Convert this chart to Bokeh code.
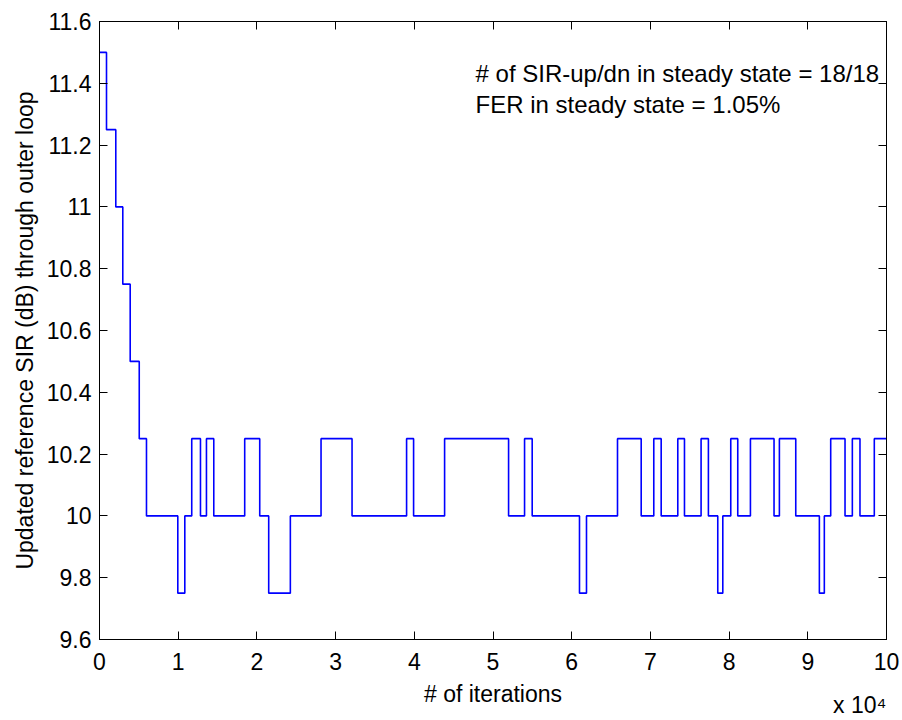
from bokeh.plotting import figure
from bokeh.models import LinearAxis, Label, Range1d, FixedTicker, CustomJSTickFormatter
from bokeh.embed import file_html
from bokeh.resources import INLINE

# Step positions (iterations) and SIR target levels (dB)
step_x = [0, 890, 2070, 2960, 3900, 5050, 5970,
          9950, 10840, 11720, 12830, 13590, 14520,
          18450, 20360, 21500, 24250, 28150, 32090,
          39020, 39910, 43850, 51980, 54010, 54980,
          60990, 61880, 65820, 68830, 70430, 71370,
          73480, 74330, 76440, 77370, 78560, 79200,
          80210, 81100, 82710, 85710, 86390, 88470,
          91470, 92100, 92910, 94730, 95660, 96630,
          98450, 100000]
step_y = [11.5, 11.25, 11.0, 10.75, 10.5, 10.25, 10.0,
          9.75, 10.0, 10.25, 10.0, 10.25, 10.0,
          10.25, 10.0, 9.75, 10.0, 10.25, 10.0,
          10.25, 10.0, 10.25, 10.0, 10.25, 10.0,
          9.75, 10.0, 10.25, 10.0, 10.25, 10.0,
          10.25, 10.0, 10.25, 10.0, 9.75, 10.0,
          10.25, 10.0, 10.25, 10.0, 10.25, 10.0,
          9.75, 10.0, 10.25, 10.0, 10.25, 10.0,
          10.25, 10.25]

x_ticks = [0, 10000, 20000, 30000, 40000, 50000, 60000, 70000, 80000, 90000, 100000]
y_ticks = [9.6, 9.8, 10.0, 10.2, 10.4, 10.6, 10.8, 11.0, 11.2, 11.4, 11.6]

ann_lines = ["# of SIR-up/dn in steady state = 18/18", "FER in steady state = 1.05%"]
multiplier_text = "x 10\u2074"
multiplier_pos = [96600]

FONT = "Liberation Sans"
FS = "23px"

p = figure(width=900, height=720, output_backend="svg", toolbar_location=None,
           x_range=Range1d(0, 100000), y_range=Range1d(9.6, 11.6),
           min_border_left=99, min_border_right=14, min_border_top=21, min_border_bottom=79)
p.background_fill_color = "white"
p.border_fill_color = "white"
p.outline_line_color = "black"
p.outline_line_width = 1
p.xgrid.visible = False
p.ygrid.visible = False

p.step(step_x, step_y, mode="after", line_color="#0000ff", line_width=1.6)

xfmt = CustomJSTickFormatter(code="return (tick/10000).toFixed(0);")
yfmt = CustomJSTickFormatter(code="return String(Number(tick.toFixed(1)));")
blank = CustomJSTickFormatter(code="return '';")

def style_axis(ax):
    ax.axis_line_color = "black"
    ax.major_tick_line_color = "black"
    ax.major_tick_in = 8
    ax.major_tick_out = 0
    ax.minor_tick_line_color = None
    ax.major_label_text_font = FONT
    ax.major_label_text_font_size = FS
    ax.major_label_text_color = "black"
    ax.axis_label_text_font = FONT
    ax.axis_label_text_font_size = FS
    ax.axis_label_text_font_style = "normal"
    ax.axis_label_text_color = "black"

xa = p.xaxis[0]
xa.ticker = FixedTicker(ticks=x_ticks)
xa.formatter = xfmt
style_axis(xa)
xa.major_label_standoff = 13
xa.axis_label = "# of iterations"
xa.axis_label_standoff = 8

ya = p.yaxis[0]
ya.ticker = FixedTicker(ticks=y_ticks)
ya.formatter = yfmt
style_axis(ya)
ya.major_label_standoff = 8
ya.axis_label = "Updated reference SIR (dB) through outer loop"
ya.axis_label_standoff = 6

ra = LinearAxis(ticker=FixedTicker(ticks=y_ticks), formatter=blank)
style_axis(ra)
ra.major_label_standoff = 0
p.add_layout(ra, "right")
ta = LinearAxis(ticker=FixedTicker(ticks=x_ticks), formatter=blank)
style_axis(ta)
ta.major_label_standoff = 0
p.add_layout(ta, "above")

# "x 10^4" multiplier drawn as the only tick label of a bare second bottom axis
ma = LinearAxis(ticker=FixedTicker(ticks=multiplier_pos),
                formatter=CustomJSTickFormatter(args=dict(t=multiplier_text), code="return t;"))
ma.axis_line_color = None
ma.major_tick_line_color = None
ma.minor_tick_line_color = None
ma.major_tick_in = 0
ma.major_tick_out = 0
ma.major_label_text_font = FONT
ma.major_label_text_font_size = "23px"
ma.major_label_text_color = "black"
ma.major_label_standoff = -18
p.add_layout(ma, "below")

# annotation text
p.add_layout(Label(x=47780, y=11.433, text=ann_lines[0], text_font=FONT,
                   text_font_size="24px", text_baseline="middle", text_color="black"))
p.add_layout(Label(x=47780, y=11.33, text=ann_lines[1], text_font=FONT,
                   text_font_size="24px", text_baseline="middle", text_color="black"))

open("out.html", "w").write(file_html(p, INLINE))
